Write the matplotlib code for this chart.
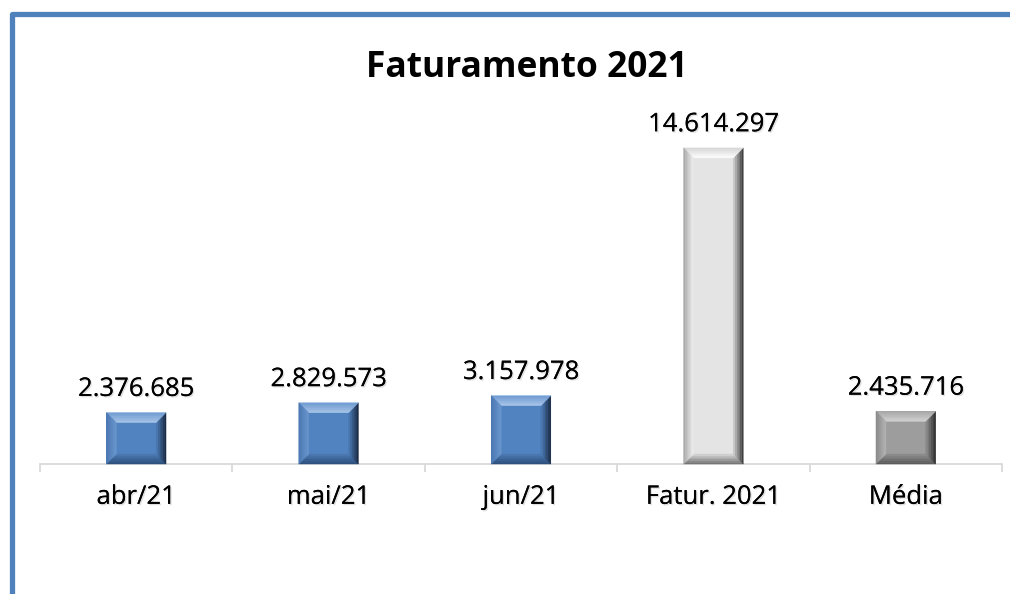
#!/usr/bin/env python3
"""Faturamento 2021 - bevelled column chart."""
import numpy as np
import matplotlib.pyplot as plt
import matplotlib.patheffects as pe
from matplotlib.patches import Polygon
from matplotlib.lines import Line2D
from matplotlib.transforms import IdentityTransform

categories = ['abr/21', 'mai/21', 'jun/21', 'Fatur. 2021', 'Média']
values = [2376685, 2829573, 3157978, 14614297, 2435716]
title = 'Faturamento 2021'

# colour sets: face, (outer, inner) for top, left, right, bottom
blue = {'face': '#5283C1',
        'top': ('#6F9BD2', '#A9C5E8'), 'left': ('#4976B0', '#6B97CF'),
        'right': ('#17253B', '#4E7EBB'), 'bottom': ('#2B4C78', '#4C7AB4')}
light = {'face': '#E4E4E4',
         'top': ('#D4D4D4', '#FFFFFF'), 'left': ('#A6A6A6', '#EFEFEF'),
         'right': ('#333333', '#D2D2D2'), 'bottom': ('#6C6C6C', '#D8D8D8')}
mid = {'face': '#9D9D9D',
       'top': ('#A6A6A6', '#D2D2D2'), 'left': ('#878787', '#B5B5B5'),
       'right': ('#2A2A2A', '#929292'), 'bottom': ('#575757', '#8F8F8F')}
styles = [blue, blue, blue, light, mid]

plt.rcParams['font.family'] = ['Open Sans', 'DejaVu Sans']

fig = plt.figure(figsize=(10.1, 5.94), dpi=100)
ax = fig.add_axes([40 / 1010, 130 / 594, 962 / 1010, 364 / 594])

x = np.arange(len(categories))
bars = ax.bar(x, values, width=0.31, color=[s['face'] for s in styles],
              edgecolor='none', zorder=2)

ax.set_xlim(-0.5, len(categories) - 0.5)
ax.set_ylim(0, 16.83e6)
ax.set_yticks([])
for side in ['left', 'right', 'top']:
    ax.spines[side].set_visible(False)
ax.spines['bottom'].set_color('#D9D9D9')
ax.spines['bottom'].set_linewidth(1.3)

ax.set_xticks(x)
ax.set_xticklabels(categories, fontsize=18.5)
ax.tick_params(axis='x', which='major', length=0, pad=15)
ax.set_xticks(np.arange(len(categories) + 1) - 0.5, minor=True)
ax.tick_params(axis='x', which='minor', length=6, width=1.3, color='#D9D9D9')

shadow = [pe.withSimplePatchShadow(offset=(1.0, -1.0), shadow_rgbFace='#999999',
                                   alpha=0.3), pe.Normal()]
for lbl in ax.get_xticklabels():
    lbl.set_path_effects(shadow)

for xi, v in zip(x, values):
    ax.annotate(f'{v:,}'.replace(',', '.'), (xi, v), xytext=(0, 12),
                textcoords='offset points', ha='center', va='baseline',
                fontsize=18.5, path_effects=shadow)

fig.text(0.522, 0.885, title, ha='center', va='center', fontsize=25.5,
         fontweight='bold')


def mix(c1, c2, t):
    a = np.array(plt.matplotlib.colors.to_rgb(c1))
    b = np.array(plt.matplotlib.colors.to_rgb(c2))
    return tuple(a + (b - a) * t)


# bevel frames drawn over each bar in pixel space
bevel = 10
layers = 6
for rect, st in zip(bars, styles):
    (x0, y0), (x1, y1) = ax.transData.transform(
        [(rect.get_x(), 0), (rect.get_x() + rect.get_width(), rect.get_height())])
    for k in range(layers):
        d0 = bevel * k / layers
        d1 = bevel * (k + 1) / layers
        t = (k + 0.5) / layers
        o = [(x0 + d0, y0 + d0), (x1 - d0, y0 + d0), (x1 - d0, y1 - d0), (x0 + d0, y1 - d0)]
        i = [(x0 + d1, y0 + d1), (x1 - d1, y0 + d1), (x1 - d1, y1 - d1), (x0 + d1, y1 - d1)]
        sides = {
            'bottom': [o[0], o[1], i[1], i[0]],
            'right': [o[1], o[2], i[2], i[1]],
            'top': [o[2], o[3], i[3], i[2]],
            'left': [o[3], o[0], i[0], i[3]],
        }
        for name, pts in sides.items():
            c = mix(st[name][0], st[name][1], t)
            fig.add_artist(Polygon(pts, closed=True, facecolor=c, edgecolor=c,
                                   linewidth=0.3, transform=IdentityTransform(),
                                   zorder=3))

# blue frame on the top and left of the chart area
fig.add_artist(Line2D([12 / 1010, 12 / 1010, 1.0], [0.0, 1 - 13.5 / 594, 1 - 13.5 / 594],
                      color='#4F81BD', linewidth=3.8, solid_joinstyle='round',
                      transform=fig.transFigure))

fig.savefig('out.png', dpi=100)
